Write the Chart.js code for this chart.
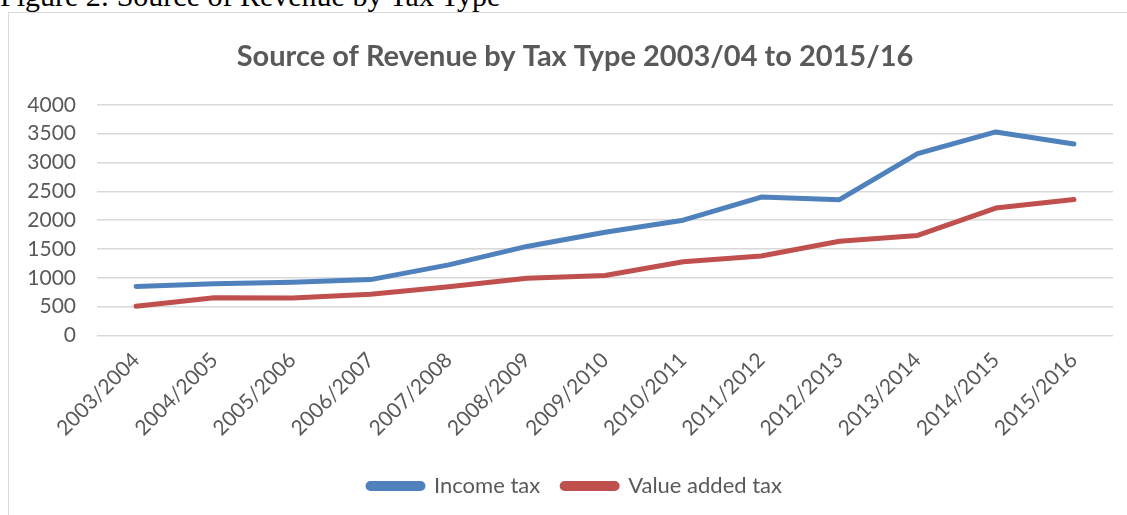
<!DOCTYPE html>
<html>
<head>
<meta charset="utf-8">
<title>Source of Revenue by Tax Type</title>
<script src="https://cdn.jsdelivr.net/npm/chart.js@4.4.1/dist/chart.umd.min.js"></script>
<style>
  html, body {
    margin: 0;
    padding: 0;
    background: #fff;
    width: 1127px;
    height: 515px;
    overflow: hidden;
    position: relative;
  }
  #caption {
    position: absolute;
    left: 0;
    top: -21px;
    font-family: "Liberation Serif", "Times New Roman", serif;
    font-size: 30px;
    color: #000;
    white-space: nowrap;
  }
  #frame {
    position: absolute;
    left: 8px;
    top: 12px;
    width: 1140px;
    height: 540px;
    border: 1.5px solid #d9d9d9;
  }
  #wrap {
    position: absolute;
    left: 10px;
    top: 14px;
    width: 1117px;
    height: 501px;
  }
</style>
</head>
<body>
<div id="caption">Figure 2: Source of Revenue by Tax Type</div>
<div id="frame"></div>
<div id="wrap"><canvas id="grafico"></canvas></div>

<script>
// Ejercicios fiscales y recaudación por tipo de impuesto
const years = ['2003/2004', '2004/2005', '2005/2006', '2006/2007', '2007/2008', '2008/2009',
  '2009/2010', '2010/2011', '2011/2012', '2012/2013', '2013/2014', '2014/2015', '2015/2016'];
const incomeTax = [850, 900, 925, 970, 1225, 1545, 1790, 2000, 2400, 2355, 3155, 3530, 3320];
const vatTax = [510, 655, 650, 715, 845, 995, 1040, 1280, 1380, 1635, 1735, 2210, 2360];
const yTicks = [0, 500, 1000, 1500, 2000, 2500, 3000, 3500, 4000];

const gris = '#595959';
const fuente = 'Lato, "Open Sans", sans-serif';

window.onload = function () {
  const ctx = document.getElementById('grafico').getContext('2d');

  new Chart(ctx, {
    type: 'line',
    data: {
      labels: years,
      datasets: [
        {
          label: 'Income tax',
          data: incomeTax,
          borderColor: '#4f81bd',
          backgroundColor: '#4f81bd',
          borderWidth: 5,
          borderCapStyle: 'round',
          borderJoinStyle: 'round',
          pointRadius: 0,
          tension: 0
        },
        {
          label: 'Value added tax',
          data: vatTax,
          borderColor: '#c0504d',
          backgroundColor: '#c0504d',
          borderWidth: 5,
          borderCapStyle: 'round',
          borderJoinStyle: 'round',
          pointRadius: 0,
          tension: 0
        }
      ]
    },
    options: {
      responsive: true,
      maintainAspectRatio: false,
      animation: false,
      layout: {
        padding: { left: 17, right: 4, top: 0, bottom: 8 }
      },
      plugins: {
        title: {
          display: true,
          text: 'Source of Revenue by Tax Type 2003/04 to 2015/16',
          color: gris,
          font: { family: fuente, size: 29, weight: 'bold' },
          padding: { top: 25, bottom: 31 }
        },
        legend: {
          position: 'bottom',
          labels: {
            color: gris,
            font: { family: fuente, size: 22 },
            boxWidth: 55,
            boxHeight: 5,
            padding: 22,
            useBorderRadius: true,
            borderRadius: 2.5
          }
        },
        tooltip: { enabled: false }
      },
      scales: {
        x: {
          offset: true,
          grid: { display: false, drawTicks: false },
          border: { display: false },
          ticks: {
            color: gris,
            font: { family: fuente, size: 21 },
            minRotation: 45,
            maxRotation: 45,
            padding: 12
          }
        },
        y: {
          min: 0,
          max: 4000,
          afterFit: function (scale) { scale.width = 70; },
          afterBuildTicks: function (scale) {
            scale.ticks = yTicks.map(v => ({ value: v }));
          },
          grid: { color: '#d9d9d9', lineWidth: 1.5, drawTicks: false },
          border: { display: false },
          ticks: {
            color: gris,
            font: { family: fuente, size: 21 },
            padding: 21,
            callback: v => String(v)
          }
        },
        // eje vacío a la derecha: deja margen sin descentrar título y leyenda
        margen: {
          position: 'right',
          afterFit: function (scale) { scale.width = 10; },
          grid: { display: false, drawTicks: false },
          border: { display: false },
          ticks: { display: false }
        }
      }
    }
  });
};
</script>
</body>
</html>
